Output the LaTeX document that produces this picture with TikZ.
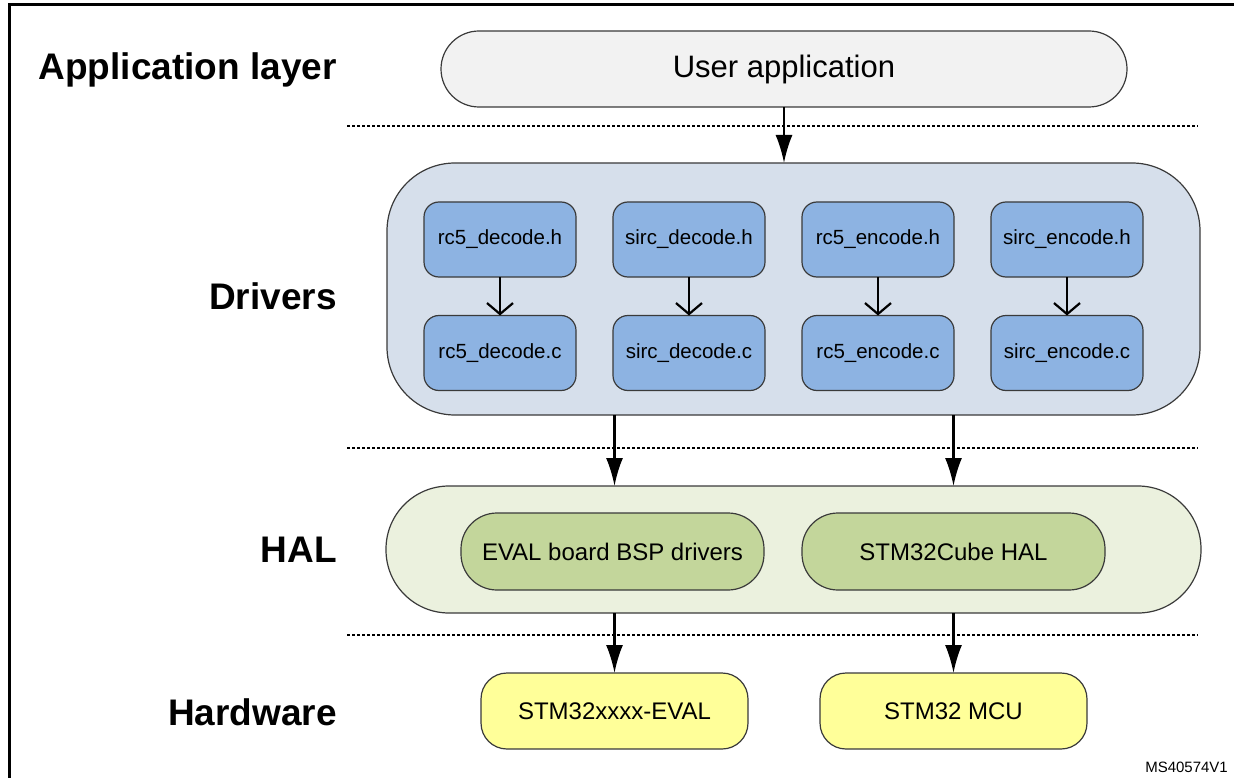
\documentclass[tikz,border=0pt]{standalone}
\usepackage{fontspec}
\setmainfont{Liberation Sans}
\usetikzlibrary{arrows.meta}
\definecolor{appfill}{HTML}{F2F2F2}
\definecolor{drvfill}{HTML}{D6DFEB}
\definecolor{filefill}{HTML}{8DB3E2}
\definecolor{halfill}{HTML}{EBF1DE}
\definecolor{halin}{HTML}{C3D69B}
\definecolor{hwfill}{HTML}{FFFF99}
\definecolor{edge}{HTML}{3A3A3A}
\tikzset{
  box/.style={draw=edge, line width=1.2pt, inner sep=0pt, outer sep=0pt, align=center},
  layerlabel/.style={anchor=east, inner sep=0pt, font=\fontsize{37}{40}\selectfont\bfseries},
  filebox/.style={box, fill=filefill, minimum width=152pt, minimum height=75pt, rounded corners=15pt, font=\fontsize{20.5}{24}\selectfont},
  halbox/.style={box, fill=halin, minimum width=303pt, minimum height=77pt, rounded corners=36pt, font=\fontsize{24}{28}\selectfont},
  hwbox/.style={box, fill=hwfill, minimum width=267pt, minimum height=76pt, rounded corners=26pt, font=\fontsize{24}{28}\selectfont},
  bigarrow/.style={line width=2.2pt, -{Latex[length=28pt,width=17pt]}},
  smallarrow/.style={line width=2.2pt, -{Straight Barb[length=11pt,width=26pt]}},
  sep/.style={line width=1.8pt, dash pattern=on 3pt off 2pt},
}
\begin{document}
\begin{tikzpicture}[x=1pt,y=-1pt]
\useasboundingbox (0,0) rectangle (1234,778);
% frame
\draw[line width=3pt] (9,778) -- (9,5) -- (1234,5);
% separators
\draw[sep] (347,126) -- (1198,126);
\draw[sep] (347,448) -- (1198,448);
\draw[sep] (347,635) -- (1198,635);
% layer labels
\node[layerlabel] (lapp) at (337,70) {Application layer};
\node[layerlabel] (ldrv) at (337,296) {Drivers};
\node[layerlabel] (lhal) at (337,550) {HAL};
\node[layerlabel] (lhw) at (337,712) {Hardware};
% application
\node[box, fill=appfill, minimum width=686pt, minimum height=76pt, rounded corners=38pt, font=\fontsize{31}{34}\selectfont] (user) at (784,69) {User application};
% drivers
\node[box, fill=drvfill, minimum width=813pt, minimum height=252pt, rounded corners=68pt] (drv) at (793.5,289) {};
\node[filebox] (rdh) at (500,239.5) {rc5\_decode.h};
\node[filebox] (sdh) at (689,239.5) {sirc\_decode.h};
\node[filebox] (reh) at (878,239.5) {rc5\_encode.h};
\node[filebox] (seh) at (1067,239.5) {sirc\_encode.h};
\node[filebox] (rdc) at (500,353) {rc5\_decode.c};
\node[filebox] (sdc) at (689,353) {sirc\_decode.c};
\node[filebox] (rec) at (878,353) {rc5\_encode.c};
\node[filebox] (sec) at (1067,353) {sirc\_encode.c};
\draw[smallarrow] (rdh) -- (rdc);
\draw[smallarrow] (sdh) -- (sdc);
\draw[smallarrow] (reh) -- (rec);
\draw[smallarrow] (seh) -- (sec);
% HAL
\node[box, fill=halfill, minimum width=815pt, minimum height=127pt, rounded corners=63pt] (hal) at (793.5,549.5) {};
\node[halbox] (bsp) at (612.5,551.5) {EVAL board BSP drivers};
\node[halbox] (cube) at (953.5,551.5) {STM32Cube HAL};
% hardware
\node[hwbox] (eval) at (614.5,711) {STM32xxxx-EVAL};
\node[hwbox] (mcu) at (953.5,711) {STM32 MCU};
% connectors
\draw[bigarrow] (user.south) -- (user.south |- drv.north);
\draw[bigarrow] (drv.south -| eval.center) -- (hal.north -| eval.center);
\draw[bigarrow] (drv.south -| mcu.center) -- (hal.north -| mcu.center);
\draw[bigarrow] (hal.south -| eval.center) -- (eval.north);
\draw[bigarrow] (hal.south -| mcu.center) -- (mcu.north);
% id
\node[anchor=south east, inner sep=0pt, font=\fontsize{15}{17}\selectfont] (id) at (1228,773) {MS40574V1};
\end{tikzpicture}
\end{document}
